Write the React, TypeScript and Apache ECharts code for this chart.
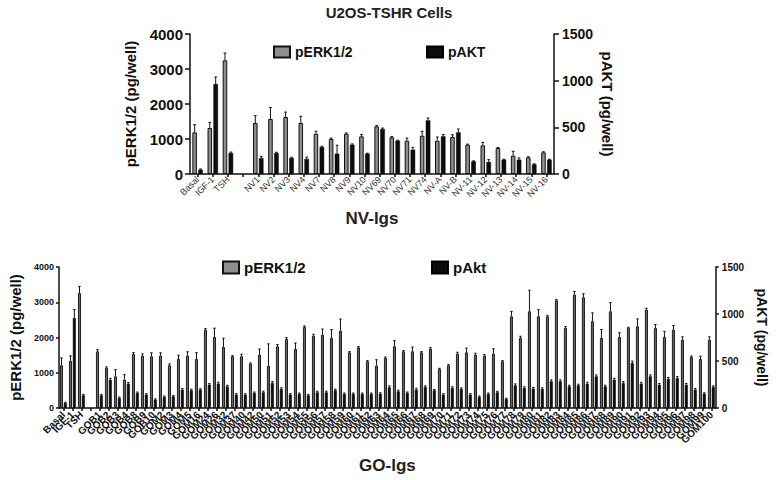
import React, { useEffect, useRef } from "react";
import * as echarts from "echarts";

const FONT = "'Liberation Sans', Arial, sans-serif";

// ---- Top panel (NV-Igs) ----
const nvCats = ["Basal", "IGF-1", "TSH", "", "NV1", "NV2", "NV3", "NV4", "NV7", "NV8", "NV9", "NV10", "NV69", "NV70", "NV71", "NV74", "NV-A", "NV-B", "NV-11", "NV-12", "NV-13", "NV-14", "NV-15", "NV-16"];
const nvErk = [1190, 1314, 3248, null, 1457, 1571, 1629, 1457, 1152, 1000, 1152, 1076, 1362, 1048, 952, 1095, 952, 1057, 838, 819, 743, 524, 476, 619];
const nvErkErr = [220, 160, 210, null, 210, 330, 140, 190, 70, 25, 20, 50, 20, 20, 75, 125, 105, 65, 15, 85, 15, 125, 15, 15];
const nvAkt = [46, 964, 225, null, 171, 225, 171, 161, 289, 218, 314, 218, 482, 357, 261, 575, 404, 446, 136, 129, 154, 154, 104, 154];
const nvAktErr = [8, 75, 10, null, 18, 8, 8, 20, 8, 90, 8, 5, 10, 5, 25, 25, 18, 36, 5, 25, 5, 18, 5, 5];

// ---- Bottom panel (GO-Igs) ----
const goLabels = [
  "GOB1", "GOB2", "GOB3", "GOB4", "GOB8", "GOB9", "GOB10", "GOM2", "GOM3", "GOM4", "GOM5", "GOM16", "GOM24", "GOM26", "GOM32", "GOM37", "GOM40", "GOM42",
  "GOM50", "GOM51", "GOM52", "GOM53", "GOM54", "GOM55", "GOM56", "GOM57", "GOM58", "GOM59", "GOM60", "GOM61", "GOM62", "GOM63", "GOM64", "GOM65", "GOM66", "GOM67", "GOM68", "GOM69", "GOM70",
  "GOM71", "GOM72", "GOM73", "GOM74", "GOM75", "GOM76", "GOM77", "GOM78", "GOM79", "GOM80", "GOM81", "GOM82", "GOM83", "GOM84", "GOM85", "GOM86", "GOM87", "GOM88", "GOM89", "GOM90",
  "GOM91", "GOM92", "GOM93", "GOM94", "GOM95", "GOM96", "GOM97", "GOM98", "GOM99", "GOM100",
];
const goCats = ["Basal", "IGF-1", "TSH", "", ...goLabels];
const goErk = [1210, 1340, 3260, null,
  1608, 1135, 898, 804, 1532, 1485, 1466, 1485, 1210, 1390,
  1485, 1390, 2222, 2014, 1730, 1466, 1466, 1258, 1513, 1200,
  1750, 1957, 1674, 2298, 2052, 2080, 1986, 2194, 1579, 1721,
  1324, 1200, 1418, 1750, 1608, 1608, 1579, 1683, 1106, 1210,
  1541, 1579, 1513, 1485, 1541, 1324, 2600, 1986, 2742, 2600,
  2600, 3054, 2270, 3215, 3140, 2459, 1986, 2742, 2014, 2270,
  2317, 2790, 2270, 2014, 2222, 1939, 1447, 1390, 1939];
const goErkErr = [210, 140, 190, null,
  50, 30, 190, 140, 40, 50, 100, 80, 40, 110,
  110, 180, 30, 250, 250, 20, 60, 20, 160, 620,
  50, 40, 170, 30, 40, 160, 240, 330, 20, 20,
  20, 170, 30, 160, 20, 120, 20, 30, 20, 20,
  40, 120, 40, 30, 140, 20, 140, 50, 600, 190,
  30, 20, 40, 90, 100, 240, 240, 250, 120, 20,
  210, 40, 100, 160, 120, 80, 30, 80, 80];
const goAkt = [53, 957, 135, null,
  135, 301, 106, 259, 160, 142, 89, 117, 124, 195,
  188, 195, 248, 259, 230, 142, 142, 160, 167, 266,
  202, 142, 149, 135, 167, 167, 188, 149, 149, 149,
  149, 152, 220, 177, 160, 195, 223, 188, 142, 213,
  202, 142, 117, 149, 167, 96, 241, 213, 206, 202,
  284, 284, 230, 241, 259, 337, 230, 301, 266, 479,
  259, 337, 248, 309, 319, 248, 195, 152, 223];
const goAktErr = [8, 90, 10, null,
  10, 15, 10, 12, 10, 10, 8, 10, 10, 12,
  12, 10, 12, 15, 12, 10, 10, 10, 12, 15,
  12, 10, 10, 10, 12, 12, 12, 10, 10, 10,
  10, 10, 15, 12, 10, 15, 12, 10, 10, 12,
  12, 10, 10, 10, 10, 8, 15, 12, 12, 12,
  15, 15, 12, 12, 15, 15, 12, 15, 15, 20,
  15, 15, 12, 15, 15, 12, 12, 10, 12];

const ERK_FILL = "#8e8e8e";
const AKT_FILL = "#0d0d0d";

function errTriples(vals: (number | null)[], errs: (number | null)[]) {
  const out: number[][] = [];
  vals.forEach((v, i) => {
    const e = errs[i];
    if (v != null && e != null) out.push([i, v, e]);
  });
  return out;
}

function errRender(offsetFrac: number) {
  return (params: any, api: any) => {
    const idx = api.value(0);
    const v = api.value(1);
    const e = api.value(2);
    const w = api.size([1, 0])[0];
    const p0 = api.coord([idx, v]);
    const p1 = api.coord([idx, v + e]);
    const x = p0[0] + offsetFrac * w;
    const cap = Math.max(1.2, w * 0.09);
    return {
      type: "group",
      children: [
        { type: "line", shape: { x1: x, y1: p0[1], x2: x, y2: p1[1] }, style: { stroke: "#111", lineWidth: 1 } },
        { type: "line", shape: { x1: x - cap, y1: p1[1], x2: x + cap, y2: p1[1] }, style: { stroke: "#111", lineWidth: 1 } },
      ],
    };
  };
}

const plain = (v: number) => String(v);

export default function App() {
  const ref = useRef<HTMLDivElement>(null);
  useEffect(() => {
    document.body.style.margin = "0";
    if (!ref.current) return;
    const chart = echarts.init(ref.current, null, { renderer: "svg" });

    const axisLine = { show: true, lineStyle: { color: "#111", width: 1.5 } };
    const axisTick = { show: true, length: 5, lineStyle: { color: "#111", width: 1.5 } };
    const legendText = (size: number) => ({ fontSize: size, fontWeight: "bold", color: "#111", fontFamily: FONT });

    const option: any = {
      animation: false,
      backgroundColor: "#fff",
      textStyle: { fontFamily: FONT },
      title: {
        text: "U2OS-TSHR Cells",
        left: 384,
        textAlign: "center",
        top: 0,
        textStyle: { fontSize: 15, fontWeight: "bold", color: "#222", fontFamily: FONT },
      },
      legend: [
        { data: ["pERK1/2"], icon: "rect", left: 268, top: 40, itemWidth: 16, itemHeight: 11, textStyle: legendText(14) },
        { data: ["pAKT"], icon: "rect", left: 421, top: 40, itemWidth: 16, itemHeight: 11, textStyle: legendText(14) },
        { data: ["pERK1/2"], icon: "rect", left: 217, top: 255, itemWidth: 16, itemHeight: 12, textStyle: legendText(15) },
        { data: ["pAkt"], icon: "rect", left: 426, top: 255, itemWidth: 16, itemHeight: 12, textStyle: legendText(15) },
      ],
      grid: [
        { left: 190, top: 34, width: 364, height: 140 },
        { left: 52, top: 267, width: 671, height: 141 },
      ],
      xAxis: [
        {
          type: "category", gridIndex: 0, data: nvCats,
          axisLine, axisTick: { ...axisTick, alignWithLabel: true, length: 3 },
          axisLabel: { interval: 0, rotate: 45, fontSize: 9, color: "#333", margin: 4, fontFamily: FONT },
          name: "NV-lgs", nameLocation: "middle", nameGap: 36,
          nameTextStyle: { fontSize: 17, fontWeight: "bold", color: "#222", fontFamily: FONT },
        },
        {
          type: "category", gridIndex: 1, data: goCats,
          axisLine, axisTick: { ...axisTick, alignWithLabel: true, length: 3 },
          axisLabel: { interval: 0, rotate: 45, fontSize: 10, fontWeight: "bold", color: "#111", margin: 5, fontFamily: FONT },
          name: "GO-lgs", nameLocation: "middle", nameGap: 49,
          nameTextStyle: { fontSize: 17, fontWeight: "bold", color: "#222", fontFamily: FONT },
        },
      ],
      yAxis: [
        {
          type: "value", gridIndex: 0, min: 0, max: 4000, interval: 1000, position: "left",
          axisLine, axisTick, splitLine: { show: false },
          axisLabel: { fontSize: 15, fontWeight: "bold", color: "#111", margin: 7, fontFamily: FONT, formatter: plain },
          name: "pERK1/2 (pg/well)", nameLocation: "middle", nameGap: 52,
          nameTextStyle: { fontSize: 15, fontWeight: "bold", color: "#111", fontFamily: FONT },
        },
        {
          type: "value", gridIndex: 0, min: 0, max: 1500, interval: 500, position: "right",
          axisLine, axisTick, splitLine: { show: false },
          axisLabel: { fontSize: 14, fontWeight: "bold", color: "#111", margin: 8, fontFamily: FONT, formatter: plain },
          name: "pAKT (pg/well)", nameLocation: "middle", nameGap: 46, nameRotate: -90,
          nameTextStyle: { fontSize: 15, fontWeight: "bold", color: "#111", fontFamily: FONT },
        },
        {
          type: "value", gridIndex: 1, min: 0, max: 4000, interval: 1000, position: "left",
          axisLine, axisTick: { ...axisTick, length: 3 }, splitLine: { show: false },
          axisLabel: { fontSize: 9, fontWeight: "bold", color: "#111", margin: 5, fontFamily: FONT, formatter: plain },
          name: "pERK1/2 (pg/well)", nameLocation: "middle", nameGap: 30,
          nameTextStyle: { fontSize: 15, fontWeight: "bold", color: "#111", fontFamily: FONT },
        },
        {
          type: "value", gridIndex: 1, min: 0, max: 1500, interval: 500, position: "right",
          axisLine, axisTick: { ...axisTick, length: 3 }, splitLine: { show: false },
          axisLabel: { fontSize: 10, fontWeight: "bold", color: "#111", margin: 6, fontFamily: FONT, formatter: plain },
          name: "pAKT (pg/well)", nameLocation: "middle", nameGap: 38, nameRotate: -90,
          nameTextStyle: { fontSize: 14, fontWeight: "bold", color: "#111", fontFamily: FONT },
        },
      ],
      series: [
        {
          name: "pERK1/2", type: "bar", xAxisIndex: 0, yAxisIndex: 0, data: nvErk,
          barWidth: "30%", barGap: "30%",
          itemStyle: { color: ERK_FILL, borderColor: "#111", borderWidth: 1 },
        },
        {
          name: "pAKT", type: "bar", xAxisIndex: 0, yAxisIndex: 1, data: nvAkt,
          barWidth: "30%", barGap: "30%",
          itemStyle: { color: AKT_FILL, borderColor: "#000", borderWidth: 0.5 },
        },
        {
          name: "pERK1/2 error", type: "custom", xAxisIndex: 0, yAxisIndex: 0,
          data: errTriples(nvErk, nvErkErr), renderItem: errRender(-0.195), encode: { x: 0, y: 1 }, z: 3,
        },
        {
          name: "pAKT error", type: "custom", xAxisIndex: 0, yAxisIndex: 1,
          data: errTriples(nvAkt, nvAktErr), renderItem: errRender(0.195), encode: { x: 0, y: 1 }, z: 3,
        },
        {
          name: "pERK1/2", type: "bar", xAxisIndex: 1, yAxisIndex: 2, data: goErk,
          barWidth: "33%", barGap: "30%",
          itemStyle: { color: "#666666", borderColor: "#111", borderWidth: 0.9 },
        },
        {
          name: "pAkt", type: "bar", xAxisIndex: 1, yAxisIndex: 3, data: goAkt,
          barWidth: "33%", barGap: "30%",
          itemStyle: { color: AKT_FILL, borderColor: "#000", borderWidth: 0.5 },
        },
        {
          name: "pERK1/2 error (GO)", type: "custom", xAxisIndex: 1, yAxisIndex: 2,
          data: errTriples(goErk, goErkErr), renderItem: errRender(-0.215), encode: { x: 0, y: 1 }, z: 3,
        },
        {
          name: "pAkt error (GO)", type: "custom", xAxisIndex: 1, yAxisIndex: 3,
          data: errTriples(goAkt, goAktErr), renderItem: errRender(0.215), encode: { x: 0, y: 1 }, z: 3,
        },
      ],
    };
    chart.setOption(option);
    return () => chart.dispose();
  }, []);
  return <div ref={ref} style={{ width: 777, height: 480 }} />;
}
